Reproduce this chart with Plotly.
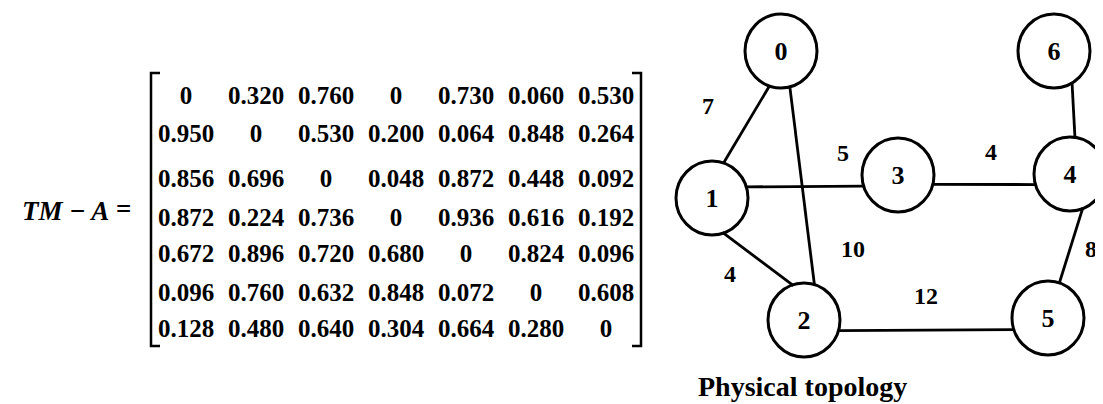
import math
import plotly.graph_objects as go

# ---------------- data ----------------
matrix_name = "TM − A"
tm_a = [
    ["0", "0.320", "0.760", "0", "0.730", "0.060", "0.530"],
    ["0.950", "0", "0.530", "0.200", "0.064", "0.848", "0.264"],
    ["0.856", "0.696", "0", "0.048", "0.872", "0.448", "0.092"],
    ["0.872", "0.224", "0.736", "0", "0.936", "0.616", "0.192"],
    ["0.672", "0.896", "0.720", "0.680", "0", "0.824", "0.096"],
    ["0.096", "0.760", "0.632", "0.848", "0.072", "0", "0.608"],
    ["0.128", "0.480", "0.640", "0.304", "0.664", "0.280", "0"],
]
nodes = ["0", "1", "2", "3", "4", "5", "6"]
edge_u = ["0", "0", "1", "1", "3", "4", "4", "2"]
edge_v = ["1", "2", "3", "2", "4", "6", "5", "5"]
edge_w = ["7", "10", "5", "4", "4", "", "8", "12"]
caption = "Physical topology"

# ---------------- layout (positions / styles) ----------------
W, H = 1103, 404
FONT = "Liberation Serif"
COL_X0, COL_DX = 178, 70.0
ROW_Y = [90, 128, 173, 212, 248, 287, 323]
BR_TOP, BR_BOT, BR_L, BR_R, SERIF = 65, 338, 143, 633, 9

node_pos = {"0": (773, 43), "1": (704, 190), "2": (796, 312), "3": (890, 167),
            "4": (1062, 166), "5": (1040, 310), "6": (1046, 43)}
R = 36
# attachment angles (deg, screen coords) at each end of each edge
edge_ang = [(108, -72), (76, -73), (-18, 162), (73, -107), (15, 163),
            (-82, 60), (69, -72), (17, 161)]
label_pos = [(700, 100), (845, 243), (835, 147), (722, 268), (983, 146),
             None, (1083, 243), (918, 290)]

fig = go.Figure()

# matrix entries
mx, my, mt = [], [], []
for i, row in enumerate(tm_a):
    for j, v in enumerate(row):
        mx.append(COL_X0 + j * COL_DX)
        my.append(ROW_Y[i])
        mt.append(v)
fig.add_trace(go.Scatter(x=mx, y=my, text=mt, mode="text", textposition="middle center",
                         textfont=dict(family=FONT, size=25, color="black", weight="bold"),
                         hoverinfo="skip", showlegend=False))

# brackets
shapes = []
shapes.append(dict(type="path", xref="x", yref="y",
                   path=f"M {BR_L+SERIF} {BR_TOP} L {BR_L} {BR_TOP} L {BR_L} {BR_BOT} L {BR_L+SERIF} {BR_BOT}",
                   line=dict(color="black", width=2.5)))
shapes.append(dict(type="path", xref="x", yref="y",
                   path=f"M {BR_R-SERIF} {BR_TOP} L {BR_R} {BR_TOP} L {BR_R} {BR_BOT} L {BR_R-SERIF} {BR_BOT}",
                   line=dict(color="black", width=2.5)))

# edges
for (u, v), (au, av) in zip(zip(edge_u, edge_v), edge_ang):
    ux, uy = node_pos[u]
    vx, vy = node_pos[v]
    x1 = ux + R * math.cos(math.radians(au)); y1 = uy + R * math.sin(math.radians(au))
    x2 = vx + R * math.cos(math.radians(av)); y2 = vy + R * math.sin(math.radians(av))
    fig.add_trace(go.Scatter(x=[x1, x2], y=[y1, y2], mode="lines",
                             line=dict(color="black", width=2.8),
                             hoverinfo="skip", showlegend=False))

# nodes
for n in nodes:
    cx, cy = node_pos[n]
    shapes.append(dict(type="circle", xref="x", yref="y", x0=cx - R, x1=cx + R,
                       y0=cy - R - 1, y1=cy + R + 1,
                       line=dict(color="black", width=3), fillcolor="rgba(0,0,0,0)"))
fig.add_trace(go.Scatter(x=[node_pos[n][0] for n in nodes], y=[node_pos[n][1] + 2 for n in nodes],
                         text=nodes, mode="text", textposition="middle center",
                         textfont=dict(family=FONT, size=26, color="black", weight="bold"),
                         hoverinfo="skip", showlegend=False))

# edge weights
lx = [p[0] for p, w in zip(label_pos, edge_w) if p]
ly = [p[1] for p, w in zip(label_pos, edge_w) if p]
lt = [w for p, w in zip(label_pos, edge_w) if p]
fig.add_trace(go.Scatter(x=lx, y=ly, text=lt, mode="text", textposition="middle center",
                         textfont=dict(family=FONT, size=24, color="black", weight="bold"),
                         hoverinfo="skip", showlegend=False))

annotations = [
    dict(x=12, y=203, xref="x", yref="y", xanchor="left", yanchor="middle", showarrow=False,
         text=f"<b><i>{matrix_name}</i></b>", font=dict(family=FONT, size=27, color="black")),
    dict(x=115, y=201, xref="x", yref="y", xanchor="center", yanchor="middle", showarrow=False,
         text="<b>=</b>", font=dict(family=FONT, size=27, color="black")),
    dict(x=688, y=378, xref="x", yref="y", xanchor="left", yanchor="middle", showarrow=False,
         text=f"<b>{caption}</b>", font=dict(family=FONT, size=28, color="black")),
]

fig.update_layout(
    width=W, height=H, autosize=False,
    margin=dict(l=0, r=0, t=0, b=0),
    paper_bgcolor="white", plot_bgcolor="white",
    xaxis=dict(range=[0, W], visible=False, fixedrange=True),
    yaxis=dict(range=[H, 0], visible=False, fixedrange=True),
    shapes=shapes, annotations=annotations,
)
fig.write_html("out.html", config={"displayModeBar": False})
